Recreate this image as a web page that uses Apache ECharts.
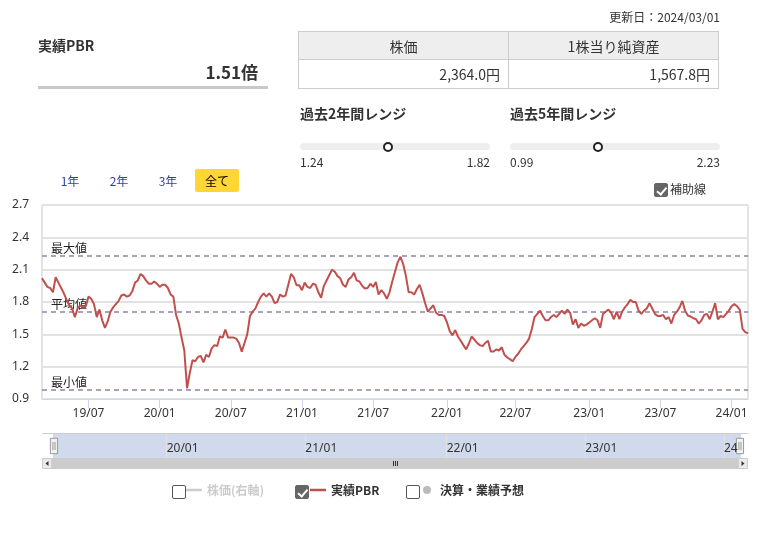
<!DOCTYPE html>
<html><head><meta charset="utf-8">
<script src="https://cdn.jsdelivr.net/npm/echarts@6/dist/echarts.min.js"></script>
<style>
html,body{margin:0;padding:0;background:#fff;}
body{width:778px;height:554px;position:relative;overflow:hidden;font-family:"Noto Sans CJK JP","Noto Sans",sans-serif;color:#333;}
#chart{position:absolute;left:0;top:0;width:778px;height:554px;}
.a{position:absolute;white-space:nowrap;z-index:2;}
table.t{position:absolute;left:298px;top:31px;border-collapse:collapse;z-index:2;font-size:14px;}
table.t td{border:1px solid #cccccc;width:210px;padding:0 8px;box-sizing:border-box;}
table.t tr.h td{background:#eeeeee;height:28px;text-align:center;color:#333;}
table.t tr.v td{background:#fff;height:29px;text-align:right;color:#333;}
.track{position:absolute;height:7px;background:#eeeeee;border-radius:4px;z-index:2;}
.knob{position:absolute;width:6px;height:6px;border:2.5px solid #222;border-radius:50%;background:#fff;z-index:3;}
.btn{position:absolute;font-size:12px;color:#1f4aa0;z-index:2;text-align:center;line-height:23px;height:23px;}
.cb{position:absolute;width:12px;height:12px;border:1px solid #555;border-radius:2px;background:#fff;box-sizing:content-box;z-index:3;}
.cb.on{background:#666;border-color:#666;}
.cb.on::after{content:"";position:absolute;left:3.5px;top:0.5px;width:3.5px;height:7.5px;border:solid #fff;border-width:0 2px 2px 0;transform:rotate(40deg);}
</style>
</head><body>
<div id="chart"></div>

<div class="a" style="right:58px;top:8px;font-size:12px;line-height:18px;">更新日：2024/03/01</div>
<div class="a" style="left:38px;top:35px;font-size:14px;font-weight:bold;line-height:20px;">実績PBR</div>
<div class="a" style="right:520px;top:60px;font-size:17px;font-weight:bold;line-height:24px;" id="curPbr"></div>
<div class="a" style="left:38px;top:86px;width:230px;height:3px;background:#c8c8c8;"></div>

<table class="t">
<tr class="h"><td>株価</td><td>1株当り純資産</td></tr>
<tr class="v"><td id="price"></td><td id="bps"></td></tr>
</table>

<div class="a" style="left:300px;top:103px;font-size:14px;font-weight:bold;line-height:20px;">過去2年間レンジ</div>
<div class="a" style="left:510px;top:103px;font-size:14px;font-weight:bold;line-height:20px;">過去5年間レンジ</div>
<div class="track" style="left:300px;top:143px;width:190px;"></div>
<div class="track" style="left:510px;top:143px;width:210px;"></div>
<div class="knob" id="k2"></div>
<div class="knob" id="k5"></div>
<div class="a" id="r2min" style="left:300px;top:153px;font-size:12px;line-height:18px;"></div>
<div class="a" id="r2max" style="right:288px;top:153px;font-size:12px;line-height:18px;"></div>
<div class="a" id="r5min" style="left:510px;top:153px;font-size:12px;line-height:18px;"></div>
<div class="a" id="r5max" style="right:58px;top:153px;font-size:12px;line-height:18px;"></div>

<div class="btn" style="left:56px;top:169px;width:28px;">1年</div>
<div class="btn" style="left:105px;top:169px;width:28px;">2年</div>
<div class="btn" style="left:154px;top:169px;width:28px;">3年</div>
<div class="btn" style="left:195px;top:169px;width:44px;background:#ffd633;border-radius:2px;color:#000;">全て</div>

<div class="cb on" style="left:654px;top:183px;"></div>
<div class="a" style="left:670px;top:180px;font-size:12px;line-height:18px;">補助線</div>

<div class="cb" style="left:172px;top:485px;"></div>
<div class="cb on" style="left:295px;top:485px;"></div>
<div class="cb" style="left:406px;top:485px;"></div>

<script>
// ---- data ----
const updateDate = '2024/03/01';
const currentPBR = 1.51;
const stockPrice = '2,364.0円';
const bookValuePerShare = '1,567.8円';
const range2y = [1.24, 1.82];
const range5y = [0.99, 2.23];

// weekly closes (Fridays) starting 2019-03-08
const firstWeek = [2019, 2, 8];
const pbr = [
 2.02,1.98,1.94,1.93,1.89,2.03,1.98,1.93,1.88,1.82,
 1.77,1.74,1.66,1.74,1.77,1.75,1.76,1.85,1.83,1.78,
 1.66,1.73,1.63,1.56,1.62,1.71,1.75,1.78,1.81,1.86,
 1.87,1.85,1.86,1.90,1.98,2.00,2.06,2.04,2.00,1.97,
 1.97,1.99,1.97,1.94,1.96,1.96,1.93,1.87,1.85,1.68,
 1.60,1.47,1.35,1.00,1.14,1.26,1.25,1.29,1.30,1.24,
 1.31,1.29,1.37,1.40,1.39,1.48,1.47,1.545,1.47,1.47,
 1.47,1.46,1.42,1.34,1.42,1.50,1.67,1.71,1.74,1.80,
 1.85,1.88,1.85,1.88,1.85,1.79,1.80,1.87,1.85,1.86,
 1.96,2.06,2.03,1.955,1.955,1.91,1.98,1.94,1.93,1.97,
 1.96,1.89,1.84,1.95,2.00,2.05,2.10,2.08,2.04,2.02,
 1.96,1.94,2.01,2.03,2.07,2.00,1.99,1.95,1.925,1.93,
 1.97,1.94,1.985,1.87,1.91,1.88,1.83,1.89,1.99,2.08,
 2.17,2.22,2.15,2.04,1.89,1.89,1.87,1.92,1.96,1.88,
 1.79,1.71,1.74,1.77,1.70,1.68,1.68,1.67,1.61,1.53,
 1.49,1.54,1.48,1.44,1.40,1.36,1.415,1.48,1.45,1.42,
 1.40,1.39,1.42,1.44,1.34,1.34,1.36,1.35,1.38,1.31,
 1.285,1.27,1.25,1.29,1.32,1.36,1.39,1.42,1.46,1.55,
 1.66,1.69,1.72,1.67,1.63,1.63,1.66,1.68,1.66,1.69,
 1.72,1.69,1.73,1.70,1.59,1.64,1.56,1.60,1.58,1.59,
 1.61,1.63,1.65,1.63,1.56,1.69,1.71,1.73,1.70,1.64,
 1.71,1.64,1.71,1.75,1.78,1.82,1.80,1.80,1.72,1.69,
 1.72,1.74,1.79,1.74,1.69,1.67,1.67,1.68,1.64,1.66,
 1.60,1.68,1.71,1.75,1.81,1.72,1.675,1.665,1.65,1.64,
 1.60,1.63,1.68,1.69,1.64,1.71,1.79,1.64,1.67,1.66,
 1.69,1.72,1.76,1.78,1.76,1.73,1.55,1.52,1.51
];
const stockSeries = [];      // 株価(右軸) hidden
const forecastSeries = [];   // 決算・業績予想 hidden

const refNames = ['最大値','平均値','最小値'];
const refValues = [2.23, 1.71, 0.99];

const yMin = 0.9, yMax = 2.7, yStep = 0.3;

// category dates (weekly)
const dates = pbr.map((v, i) => {
  const d = new Date(Date.UTC(firstWeek[0], firstWeek[1], firstWeek[2] + 7 * i));
  return d.toISOString().slice(0, 10);
});

// ---- header text ----
document.getElementById('curPbr').textContent = currentPBR.toFixed(2) + '倍';
document.getElementById('price').textContent = stockPrice;
document.getElementById('bps').textContent = bookValuePerShare;
document.getElementById('r2min').textContent = range2y[0].toFixed(2);
document.getElementById('r2max').textContent = range2y[1].toFixed(2);
document.getElementById('r5min').textContent = range5y[0].toFixed(2);
document.getElementById('r5max').textContent = range5y[1].toFixed(2);
function placeKnob(id, range, left, width) {
  const f = (currentPBR - range[0]) / (range[1] - range[0]);
  const el = document.getElementById(id);
  el.style.left = (left + f * width - 5.5) + 'px';
  el.style.top = (147 - 5.5) + 'px';
}
placeKnob('k2', range2y, 300, 190);
placeKnob('k5', range5y, 510, 210);

// ---- chart ----
function monthStart(idx, months) {
  const m = dates[idx].slice(5, 7);
  if (months.indexOf(m) < 0 || idx === 0) return false;
  return dates[idx - 1].slice(5, 7) !== m;
}
const halfYear = (idx) => monthStart(idx, ['01', '07']);
const yearStart = (idx) => monthStart(idx, ['01']);
const fmt = (v) => v.slice(2, 4) + '/' + v.slice(5, 7);

const chart = echarts.init(document.getElementById('chart'), null, {renderer: 'canvas'});
const font = '"Noto Sans","Noto Sans CJK JP",sans-serif';
const lastNavIdx = dates.length - 1;

chart.setOption({
  animation: false,
  backgroundColor: '#ffffff',
  textStyle: {fontFamily: font},
  grid: [
    {left: 42, right: 30, top: 205, bottom: 155, show: true, borderColor: '#c8c8c8', borderWidth: 1, backgroundColor: '#fff'},
    {left: 52, right: 38, top: 434, height: 24, show: false}
  ],
  xAxis: [
    {
      type: 'category', data: dates, boundaryGap: false, gridIndex: 0,
      axisLine: {lineStyle: {color: '#ccd6eb', width: 1}},
      axisTick: {interval: halfYear, length: 9, lineStyle: {color: '#ccd6eb'}},
      axisLabel: {interval: halfYear, formatter: fmt, color: '#333', fontSize: 12, margin: 9, fontFamily: font},
      splitLine: {show: false}
    },
    {
      type: 'category', data: dates, boundaryGap: false, gridIndex: 1, z: 10,
      axisLine: {show: false}, axisTick: {show: false},
      axisLabel: {
        interval: yearStart, inside: true, align: 'left', margin: 3, color: '#333', fontSize: 12, fontFamily: font,
        formatter: (v, idx) => (idx > lastNavIdx - 10 ? v.slice(2, 4) : fmt(v))
      },
      splitLine: {show: true, interval: yearStart, lineStyle: {color: '#e0e0e0', width: 1}}
    }
  ],
  yAxis: [
    {
      type: 'value', min: yMin, max: yMax, interval: yStep, gridIndex: 0,
      axisLine: {show: false}, axisTick: {show: false},
      axisLabel: {formatter: (v) => v.toFixed(1), color: '#333', fontSize: 12, margin: 13, fontFamily: font},
      splitLine: {lineStyle: {color: '#e2e2e2', width: 2}}
    },
    {type: 'value', gridIndex: 0, position: 'right', show: false},
    {type: 'value', gridIndex: 1, show: false, min: 0, max: 1}
  ],
  dataZoom: [{
    type: 'slider', xAxisIndex: 0, start: 0, end: 100,
    left: 52, right: 38, top: 434, height: 24,
    backgroundColor: 'rgba(0,0,0,0)', borderColor: 'rgba(0,0,0,0)',
    fillerColor: 'rgba(102,133,194,0.3)',
    showDataShadow: false, showDetail: false, brushSelect: false,
    moveHandleSize: 0, moveHandleStyle: {opacity: 0},
    handleIcon: 'path://M-3.5,-7.5 L3.5,-7.5 L3.5,7.5 L-3.5,7.5 Z M-1,-4 L-1,4 M1,-4 L1,4',
    handleSize: '64%',
    handleStyle: {color: '#f2f2f2', borderColor: '#999999', borderWidth: 1},
    emphasis: {handleStyle: {color: '#f2f2f2', borderColor: '#999999'}},
    textStyle: {color: 'rgba(0,0,0,0)'}
  }],
  legend: [
    {left: 186, top: 484, padding: 0, itemWidth: 16, itemHeight: 2.5, inactiveColor: '#cccccc',
      textStyle: {fontSize: 12, fontWeight: 'bold', color: '#333', fontFamily: '"Noto Sans CJK JP",sans-serif'},
      data: [{name: '株価(右軸)', icon: 'rect'}],
      selected: {'株価(右軸)': false, '実績PBR': true, '決算・業績予想': false}},
    {left: 310, top: 484, padding: 0, itemWidth: 16, itemHeight: 2.5, inactiveColor: '#cccccc',
      textStyle: {fontSize: 12, fontWeight: 'bold', color: '#333', fontFamily: '"Noto Sans CJK JP",sans-serif'},
      data: [{name: '実績PBR', icon: 'rect'}]},
    {left: 423, top: 484, padding: 0, itemWidth: 16, itemHeight: 8, inactiveColor: '#cccccc',
      textStyle: {fontSize: 12, fontWeight: 'bold', color: '#333', fontFamily: '"Noto Sans CJK JP",sans-serif'},
      data: [{name: '決算・業績予想', icon: 'circle'}]}
  ],
  graphic: [
    {type: 'line', shape: {x1: 42, y1: 433.5, x2: 748, y2: 433.5}, style: {stroke: '#cccccc', lineWidth: 1}, z: 100},
    {type: 'rect', shape: {x: 42, y: 458, width: 706, height: 11}, style: {fill: '#f2f2f2'}, z: 100},
    {type: 'rect', shape: {x: 52, y: 458, width: 686, height: 11}, style: {fill: '#cccccc'}, z: 100},
    {type: 'rect', shape: {x: 42.5, y: 458.5, width: 9, height: 10}, style: {fill: '#ebebeb', stroke: '#cccccc'}, z: 100},
    {type: 'rect', shape: {x: 738.5, y: 458.5, width: 9, height: 10}, style: {fill: '#ebebeb', stroke: '#cccccc'}, z: 100},
    {type: 'polygon', shape: {points: [[45.5, 463.5], [48.5, 461], [48.5, 466]]}, style: {fill: '#333'}, z: 101},
    {type: 'polygon', shape: {points: [[744.5, 463.5], [741.5, 461], [741.5, 466]]}, style: {fill: '#333'}, z: 101},
    {type: 'line', shape: {x1: 393.5, y1: 461, x2: 393.5, y2: 466}, style: {stroke: '#333', lineWidth: 1}, z: 101},
    {type: 'line', shape: {x1: 395.5, y1: 461, x2: 395.5, y2: 466}, style: {stroke: '#333', lineWidth: 1}, z: 101},
    {type: 'line', shape: {x1: 397.5, y1: 461, x2: 397.5, y2: 466}, style: {stroke: '#333', lineWidth: 1}, z: 101}
  ],
  series: [
    {name: '株価(右軸)', type: 'line', yAxisIndex: 1, data: stockSeries, color: '#999999', showSymbol: false},
    {
      name: '実績PBR', type: 'line', data: pbr, xAxisIndex: 0, yAxisIndex: 0,
      color: '#c0504d', showSymbol: false, symbol: 'none',
      lineStyle: {color: '#c0504d', width: 2}, z: 5,
      markLine: {
        silent: true, symbol: ['none', 'none'], animation: false,
        lineStyle: {color: '#8f84a8', type: [5, 4], width: 1.5},
        label: {position: 'insideStartTop', formatter: '{b}', color: '#222', fontSize: 12, distance: 1, padding: [0, 0, 0, 8], fontFamily: '"Noto Sans CJK JP",sans-serif'},
        emphasis: {disabled: true},
        data: refValues.map((v, i) => ({name: refNames[i], yAxis: v}))
      }
    },
    {name: '決算・業績予想', type: 'scatter', data: forecastSeries, color: '#aaaaaa'}
  ]
});
</script>
</body></html>
